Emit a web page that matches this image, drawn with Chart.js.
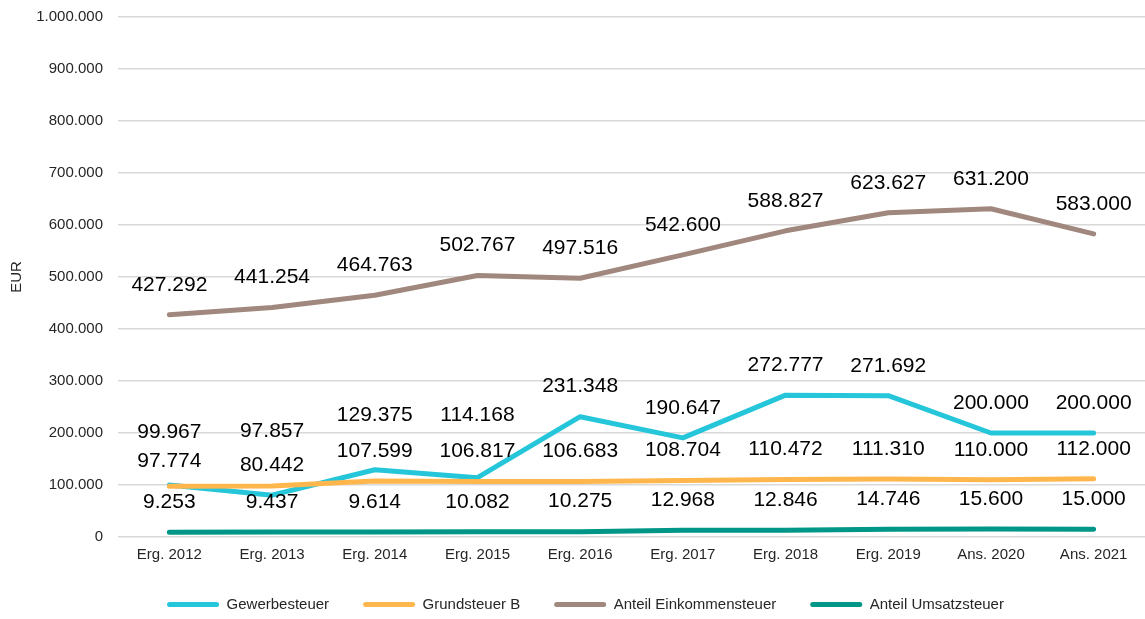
<!DOCTYPE html>
<html>
<head>
<meta charset="utf-8">
<script src="https://cdn.jsdelivr.net/npm/chart.js@4"></script>
<style>
  html, body { margin: 0; padding: 0; background: #fff; }
  #wrap { width: 1145px; height: 619px; }
</style>
</head>
<body>
<div id="wrap"><canvas id="chart"></canvas></div>
<script>
// categories + series
const categories = ['Erg. 2012', 'Erg. 2013', 'Erg. 2014', 'Erg. 2015', 'Erg. 2016',
                    'Erg. 2017', 'Erg. 2018', 'Erg. 2019', 'Ans. 2020', 'Ans. 2021'];
const gewerbesteuer = [99967, 80442, 129375, 114168, 231348, 190647, 272777, 271692, 200000, 200000];
const grundsteuerB = [97774, 97857, 107599, 106817, 106683, 108704, 110472, 111310, 110000, 112000];
const einkommensteuer = [427292, 441254, 464763, 502767, 497516, 542600, 588827, 623627, 631200, 583000];
const umsatzsteuer = [9253, 9437, 9614, 10082, 10275, 12968, 12846, 14746, 15600, 15000];

// how far (px) each value label sits above its point
const liftGewerbe = [53, 30, 55, 62, 30, 30, 30, 30, 30, 30];
const liftGrund = [25, 55, 30, 30, 30, 30, 30, 30, 30, 30];
const liftDefault = 30;

const FONT = "'Liberation Sans', Arial, sans-serif";

function fmt(v) {
    return String(Math.round(v)).replace(/\B(?=(\d{3})+(?!\d))/g, '.');
}

function line(label, data, color, order, lift) {
    return {
        label: label,
        data: data,
        borderColor: color,
        backgroundColor: color,
        borderWidth: 5,
        borderCapStyle: 'round',
        borderJoinStyle: 'round',
        pointRadius: 0,
        pointHoverRadius: 0,
        tension: 0,
        order: order,
        lift: lift
    };
}

// value labels above the points
const valueLabels = {
    id: 'valueLabels',
    afterDatasetsDraw(chart) {
        const ctx = chart.ctx;
        ctx.save();
        ctx.font = '21px ' + FONT;
        ctx.fillStyle = '#000';
        ctx.textAlign = 'center';
        ctx.textBaseline = 'middle';
        chart.data.datasets.forEach((ds, i) => {
            const meta = chart.getDatasetMeta(i);
            meta.data.forEach((pt, j) => {
                const lift = Array.isArray(ds.lift) ? ds.lift[j] : ds.lift;
                ctx.fillText(fmt(ds.data[j]), pt.x, pt.y - lift);
            });
        });
        ctx.restore();
    }
};

new Chart(document.getElementById('chart'), {
    type: 'line',
    data: {
        labels: categories,
        datasets: [
            line('Gewerbesteuer', gewerbesteuer, '#26C6DA', 4, liftGewerbe),
            line('Grundsteuer B', grundsteuerB, '#FFB74D', 3, liftGrund),
            line('Anteil Einkommensteuer', einkommensteuer, '#A1887F', 2, liftDefault),
            line('Anteil Umsatzsteuer', umsatzsteuer, '#009688', 1, liftDefault)
        ]
    },
    options: {
        responsive: true,
        maintainAspectRatio: false,
        animation: false,
        layout: { padding: { left: 26, top: 17, right: 0, bottom: 0 } },
        scales: {
            x: {
                offset: true,
                grid: { display: false, drawTicks: false },
                border: { display: false },
                ticks: { color: '#262626', font: { family: FONT, size: 15 }, padding: 9, maxRotation: 0, autoSkip: false },
                afterFit(scale) { scale.height = 26; }
            },
            y: {
                min: 0,
                max: 1000000,
                border: { display: false },
                grid: { color: '#d9d9d9', lineWidth: 1.5, drawTicks: false },
                ticks: {
                    stepSize: 100000,
                    color: '#262626',
                    font: { family: FONT, size: 15 },
                    padding: 15,
                    callback: (v) => fmt(v)
                },
                title: {
                    display: true,
                    text: 'EUR',
                    color: '#262626',
                    font: { family: FONT, size: 15 },
                    padding: { top: -18, bottom: 0 }
                },
                afterFit(scale) {
                    scale.width = 92;
                    scale.paddingTop = 0;
                    scale.paddingBottom = 0;
                }
            }
        },
        plugins: {
            legend: {
                position: 'bottom',
                maxHeight: 56,
                labels: {
                    boxWidth: 52,
                    boxHeight: 5,
                    padding: 34,
                    color: '#262626',
                    font: { family: FONT, size: 15 },
                    useBorderRadius: true,
                    borderRadius: 2.5,
                    generateLabels(chart) {
                        return chart.data.datasets.map((ds, i) => ({
                            text: ds.label,
                            fillStyle: ds.borderColor,
                            strokeStyle: ds.borderColor,
                            lineWidth: 0,
                            borderRadius: 2.5,
                            fontColor: '#262626',
                            datasetIndex: i,
                            hidden: false
                        }));
                    }
                }
            },
            tooltip: { enabled: false }
        }
    },
    plugins: [valueLabels]
});
</script>
</body>
</html>
